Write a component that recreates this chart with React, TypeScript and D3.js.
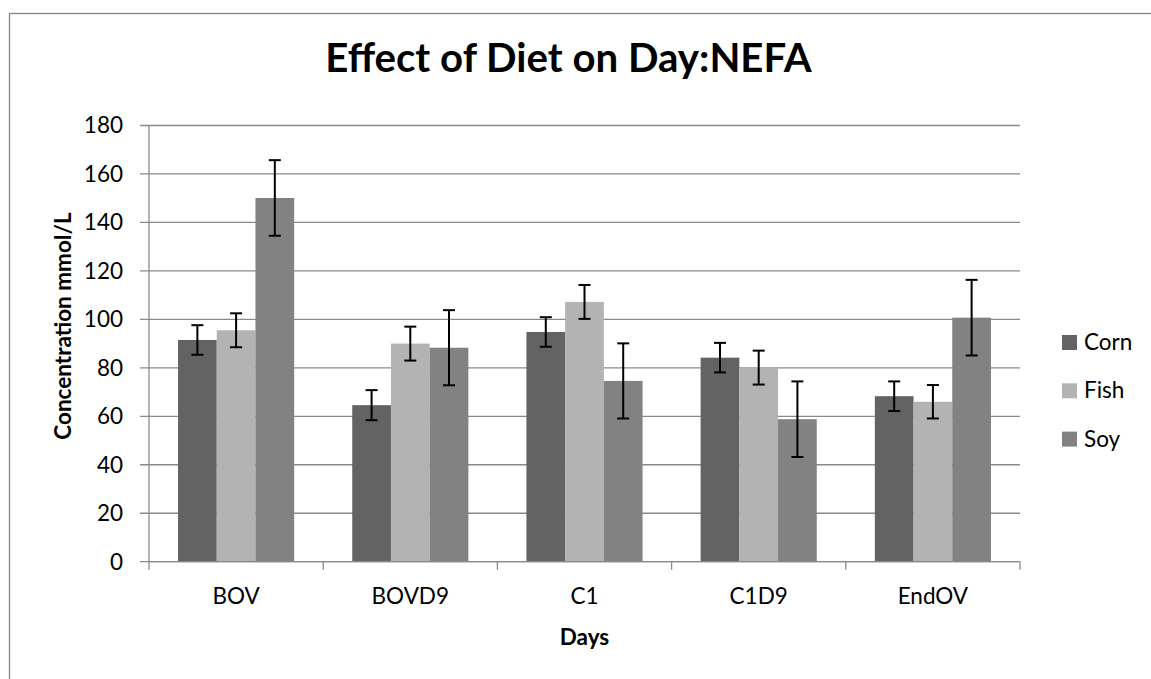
import React from "react";
import * as d3 from "d3";

const categories = ["BOV", "BOVD9", "C1", "C1D9", "EndOV"];
const seriesNames = ["Corn", "Fish", "Soy"];
const cornValues = [91.5, 64.6, 94.8, 84.2, 68.3];
const fishValues = [95.5, 90.0, 107.2, 80.1, 66.0];
const soyValues = [150.1, 88.3, 74.6, 58.8, 100.7];
const cornErrors = [6.1, 6.2, 6.1, 6.1, 6.1];
const fishErrors = [7.0, 7.0, 7.0, 7.0, 6.9];
const soyErrors = [15.6, 15.5, 15.5, 15.6, 15.6];
const yTicks = [0, 20, 40, 60, 80, 100, 120, 140, 160, 180];
const seriesColors = ["#636363", "#b3b3b3", "#828282"];

const titleText = "Effect of Diet on Day:NEFA";
const xTitle = "Days";
const yTitle = "Concentration mmol/L";

const W = 1151;
const H = 679;
const plot = { left: 149, right: 1020, top: 125.5, bottom: 561.7 };
const FONT = "Lato, 'Open Sans', sans-serif";
const GRID = "#8a8a8a";

export default function App() {
  const values = [cornValues, fishValues, soyValues];
  const errors = [cornErrors, fishErrors, soyErrors];

  const x = d3.scaleBand<string>().domain(categories).range([plot.left, plot.right]).paddingInner(0).paddingOuter(0);
  const xs = d3.scaleBand<string>().domain(seriesNames).range([0, x.bandwidth()]).paddingInner(0).paddingOuter(0.75);
  const y = d3.scaleLinear().domain([0, 180]).range([plot.bottom, plot.top]);

  const boundaries = categories.map((c) => x(c) as number).concat([plot.right]);

  return (
    <svg width={W} height={H} style={{ position: "absolute", left: 0, top: 0, background: "#fff" }}>
      <rect x={9.5} y={13.5} width={1300} height={800} fill="#fff" stroke="#868686" strokeWidth={1.3} />
      <text x={568.5} y={71.5} textAnchor="middle" fontFamily={FONT} fontWeight="bold" fontSize={40.2} fill="#000">
        {titleText}
      </text>
      {/* gridlines */}
      {yTicks.map((t) => (
        <line key={"g" + t} x1={plot.left - 9} x2={plot.right} y1={y(t)} y2={y(t)} stroke={GRID} strokeWidth={1.3} />
      ))}
      {/* y axis */}
      <line x1={plot.left} x2={plot.left} y1={plot.top} y2={plot.bottom + 0.5} stroke={GRID} strokeWidth={1.3} />
      {yTicks.map((t) => (
        <text key={"yl" + t} x={123} y={y(t)} dy="0.35em" textAnchor="end" fontFamily={FONT} fontSize={22.5} fill="#000">
          {t}
        </text>
      ))}
      {/* bars */}
      {categories.map((c, i) => (
        <g key={c}>
          {seriesNames.map((s, j) => {
            const bx = (x(c) as number) + (xs(s) as number);
            const v = values[j][i];
            return (
              <rect key={s} x={bx} y={y(v)} width={xs.bandwidth()} height={plot.bottom - y(v)} fill={seriesColors[j]} />
            );
          })}
        </g>
      ))}
      {/* x axis */}
      <line x1={plot.left} x2={plot.right} y1={plot.bottom} y2={plot.bottom} stroke={GRID} strokeWidth={1.3} />
      {boundaries.map((b, i) => (
        <line key={"xt" + i} x1={b} x2={b} y1={plot.bottom} y2={plot.bottom + 8} stroke={GRID} strokeWidth={1.3} />
      ))}
      {/* error bars */}
      {categories.map((c, i) => (
        <g key={"e" + c}>
          {seriesNames.map((s, j) => {
            const cx = (x(c) as number) + (xs(s) as number) + xs.bandwidth() / 2;
            const v = values[j][i];
            const e = errors[j][i];
            const yt = y(v + e);
            const yb = y(v - e);
            return (
              <g key={s} stroke="#000" strokeWidth={2}>
                <line x1={cx} x2={cx} y1={yt} y2={yb} />
                <line x1={cx - 6} x2={cx + 6} y1={yt} y2={yt} />
                <line x1={cx - 6} x2={cx + 6} y1={yb} y2={yb} />
              </g>
            );
          })}
        </g>
      ))}
      {categories.map((c) => (
        <text key={"xl" + c} x={(x(c) as number) + x.bandwidth() / 2} y={604} textAnchor="middle" fontFamily={FONT} fontSize={22.5} fill="#000">
          {c}
        </text>
      ))}
      <text x={584.5} y={645} textAnchor="middle" fontFamily={FONT} fontWeight="bold" fontSize={22.5} fill="#000">
        {xTitle}
      </text>
      <text
        transform={`translate(71,${326}) rotate(-90)`}
        textAnchor="middle"
        fontFamily={FONT}
        fontWeight="bold"
        fontSize={22.5}
        fill="#000"
      >
        {yTitle}
      </text>
      {/* legend */}
      {seriesNames.map((s, j) => (
        <g key={"lg" + s} transform={`translate(1062,${335 + j * 48.3})`}>
          <rect x={0} y={0} width={15} height={15} fill={seriesColors[j]} />
          <text x={22} y={15} fontFamily={FONT} fontSize={22.5} fill="#000">
            {s}
          </text>
        </g>
      ))}
    </svg>
  );
}
